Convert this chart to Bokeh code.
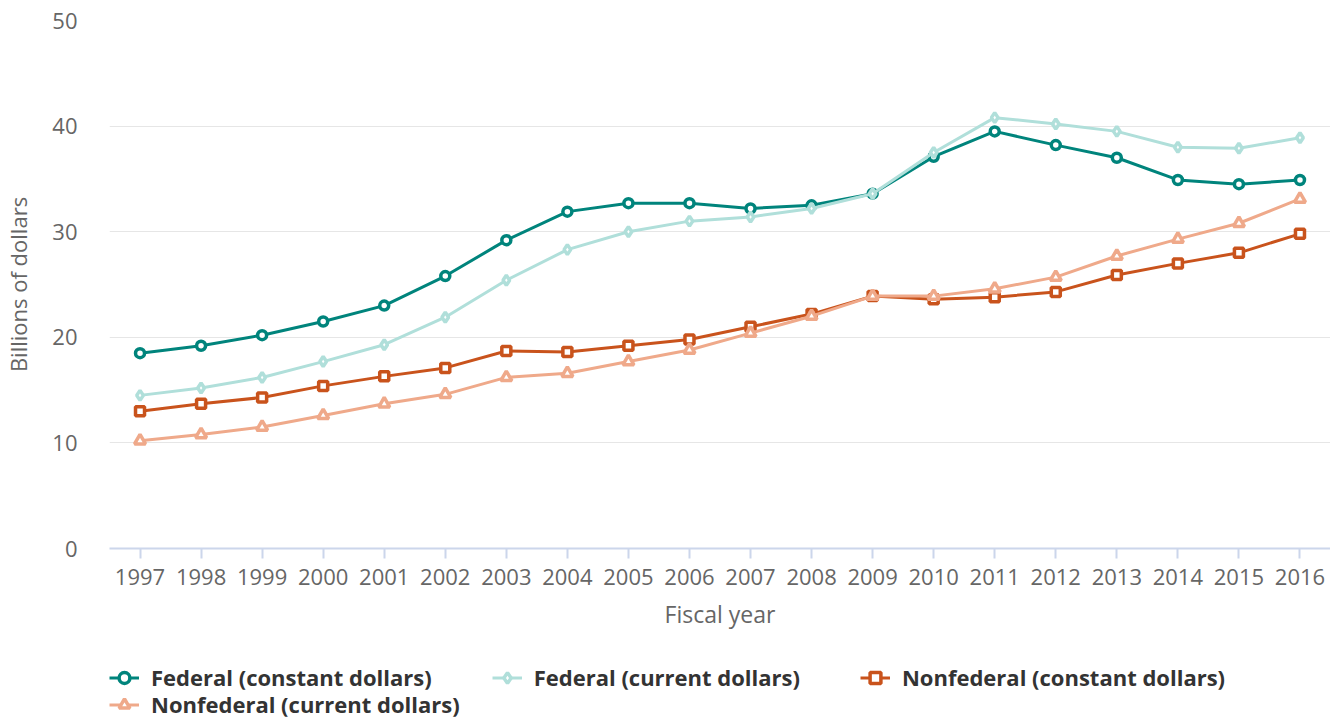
from bokeh.plotting import figure
from bokeh.models import Legend, LegendItem, FixedTicker, Range1d
from bokeh.layouts import column
from bokeh.embed import file_html
from bokeh.resources import INLINE

years = list(range(1997, 2017))
federal_constant = [18.5, 19.2, 20.2, 21.5, 23.0, 25.8, 29.2, 31.9, 32.7, 32.7,
                    32.2, 32.5, 33.6, 37.1, 39.5, 38.2, 37.0, 34.9, 34.5, 34.9]
federal_current = [14.5, 15.2, 16.2, 17.7, 19.3, 21.9, 25.4, 28.3, 30.0, 31.0,
                   31.4, 32.2, 33.6, 37.5, 40.8, 40.2, 39.5, 38.0, 37.9, 38.9]
nonfederal_constant = [13.0, 13.7, 14.3, 15.4, 16.3, 17.1, 18.7, 18.6, 19.2, 19.8,
                       21.0, 22.2, 23.9, 23.6, 23.8, 24.3, 25.9, 27.0, 28.0, 29.8]
nonfederal_current = [10.2, 10.8, 11.5, 12.6, 13.7, 14.6, 16.2, 16.6, 17.7, 18.8,
                      20.4, 22.0, 23.9, 23.9, 24.6, 25.7, 27.7, 29.3, 30.8, 33.1]
y_ticks = [0, 10, 20, 30, 40, 50]

FONT = "Open Sans"

p = figure(frame_width=1221, frame_height=528,
           x_range=Range1d(1996.5, 2016.5), y_range=Range1d(0, 50),
           output_backend="svg", toolbar_location=None,
           min_border_left=99, min_border_right=0, min_border_top=20,
           min_border_bottom=90)
p.outline_line_color = None
p.background_fill_color = "white"
p.border_fill_color = "white"

# axes
p.xaxis.ticker = FixedTicker(ticks=years)
p.yaxis.ticker = FixedTicker(ticks=y_ticks)
p.xgrid.grid_line_color = None
p.ygrid.grid_line_color = "#e6e6e6"
p.ygrid.grid_line_width = 1

p.yaxis.axis_line_color = None
p.yaxis.major_tick_line_color = None
p.yaxis.minor_tick_line_color = None
p.yaxis.major_label_standoff = 26
p.yaxis.major_label_text_font = FONT
p.yaxis.major_label_text_font_size = "22px"
p.yaxis.major_label_text_color = "#666666"
p.yaxis.axis_label = "Billions of dollars"
p.yaxis.axis_label_text_font = FONT
p.yaxis.axis_label_text_font_size = "22px"
p.yaxis.axis_label_text_font_style = "normal"
p.yaxis.axis_label_text_color = "#666666"
p.yaxis.axis_label_standoff = 16

p.xaxis.axis_line_color = "#ccd6eb"
p.xaxis.axis_line_width = 2
p.xaxis.major_tick_line_color = "#ccd6eb"
p.xaxis.major_tick_line_width = 2
p.xaxis.major_tick_out = 10
p.xaxis.major_tick_in = 0
p.xaxis.minor_tick_line_color = None
p.xaxis.major_label_standoff = 10
p.xaxis.major_label_text_font = FONT
p.xaxis.major_label_text_font_size = "22px"
p.xaxis.major_label_text_color = "#666666"
p.xaxis.axis_label = "Fiscal year"
p.xaxis.axis_label_text_font = FONT
p.xaxis.axis_label_text_font_size = "23px"
p.xaxis.axis_label_text_font_style = "normal"
p.xaxis.axis_label_text_color = "#666666"
p.xaxis.axis_label_standoff = 10

series = [
    ("Federal (constant dollars)", federal_constant, "#00847c", "circle", 9),
    ("Federal (current dollars)", federal_current, "#b0dfda", "diamond", 10),
    ("Nonfederal (constant dollars)", nonfederal_constant, "#c9531c", "square", 9),
    ("Nonfederal (current dollars)", nonfederal_current, "#efa98a", "triangle", 11),
]

# legend strip below the chart
lg = figure(width=1320, height=82, x_range=Range1d(0, 1), y_range=Range1d(0, 1),
            x_axis_type=None, y_axis_type=None,
            output_backend="svg", toolbar_location=None,
            min_border_left=0, min_border_right=0, min_border_top=0,
            min_border_bottom=0)
lg.grid.visible = False
lg.outline_line_color = None
lg.background_fill_color = "white"
lg.border_fill_color = "white"

items = []
for label, vals, color, marker, size in series:
    p.line(years, vals, line_color=color, line_width=3)
    p.scatter(years, vals, marker=marker, size=size,
              fill_color="white", line_color=color, line_width=3.5)
    # proxy renderers (drawn outside the visible range) used only for the legend keys
    lr = lg.line([-5, -4], [-5, -4], line_color=color, line_width=3)
    mr = lg.scatter([-5], [-5], marker=marker, size=size,
                    fill_color="white", line_color=color, line_width=3.5)
    items.append(LegendItem(label=label, renderers=[lr, mr]))


def make_legend(its, loc):
    return Legend(items=its, orientation="horizontal", location=loc,
                  label_text_font=FONT, label_text_font_size="22px",
                  label_text_font_style="bold", label_text_color="#333333",
                  glyph_width=30, glyph_height=27, label_standoff=12,
                  spacing=60, padding=0, margin=0,
                  background_fill_alpha=0, border_line_color=None,
                  label_height=27)


lg.add_layout(make_legend(items[:3], (0, 28)))
lg.add_layout(make_legend(items[3:], (0, 1)))

layout = column(p, lg, spacing=0)
open("out.html", "w").write(file_html(layout, INLINE))
